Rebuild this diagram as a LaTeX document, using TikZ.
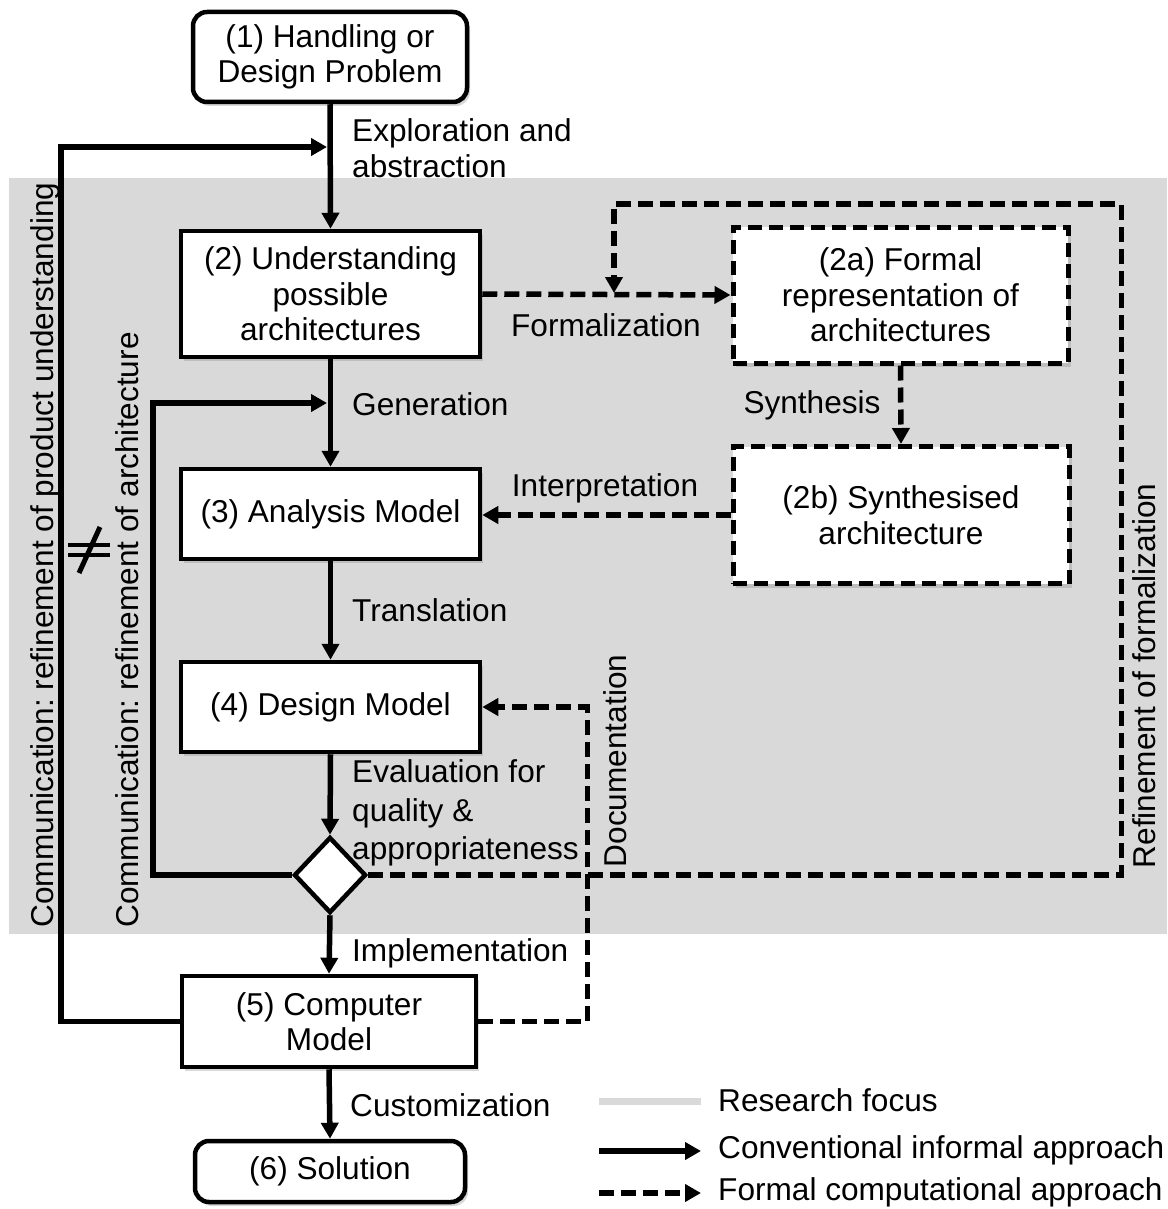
\documentclass[tikz,border=0pt]{standalone}
\usepackage{fontspec}
\setmainfont{Liberation Sans}
\usetikzlibrary{arrows.meta,shapes.geometric,shadows}
\definecolor{focusgrey}{HTML}{D9D9D9}
\frenchspacing
\begin{document}
\begin{tikzpicture}[x=1pt,y=-1pt,
  font=\fontsize{31.6}{35.5}\selectfont,
  shad/.style={drop shadow={shadow xshift=3pt,shadow yshift=-4pt,opacity=0.3}},
  box/.style={draw,line width=4.5pt,fill=white,align=center,inner sep=0pt,shad},
  dbox/.style={box,line width=5pt,dash pattern=on 14pt off 7pt},
  tip/.style={-{Triangle[length=16pt,width=17pt]}},
  conn/.style={line width=5.5pt,tip},
  dconn/.style={line width=5.5pt,dash pattern=on 15pt off 7pt,tip},
  lbl/.style={inner sep=0pt,align=left,anchor=west},
  vlbl/.style={inner sep=0pt,rotate=90,anchor=base}
]
\useasboundingbox (0,0) rectangle (1167,1209);
\fill[white] (0,0) rectangle (1167,1209);
% research focus region
\fill[focusgrey] (9,178) rectangle (1167,934);

% nodes
\node[box,rounded corners=14pt,minimum width=274pt,minimum height=90pt] (n1) at (330,57) {(1) Handling or\\Design Problem};
\node[box,minimum width=299pt,minimum height=126pt] (n2) at (330.5,294) {(2) Understanding\\possible\\architectures};
\node[dbox,minimum width=335pt,minimum height=136pt] (n2a) at (900.5,295) {(2a) Formal\\representation of\\architectures};
\node[dbox,minimum width=336pt,minimum height=137pt] (n2b) at (901,515) {(2b) Synthesised\\architecture};
\node[box,minimum width=299pt,minimum height=90pt] (n3) at (330.5,514) {(3) Analysis Model};
\node[box,minimum width=299pt,minimum height=90pt] (n4) at (330.5,707) {(4) Design Model};
\node[draw,diamond,line width=4.5pt,fill=white,inner sep=0pt,minimum width=72pt,minimum height=76pt] (d) at (330,875) {};
\node[box,minimum width=294pt,minimum height=91pt] (n5) at (329,1021.5) {(5) Computer\\Model};
\node[box,rounded corners=14pt,minimum width=270pt,minimum height=61pt] (n6) at (330,1171.5) {(6) Solution};

% junction points on the main line
\coordinate (j1) at (327,147);
\coordinate (j2) at (327,403);
\coordinate (j3) at (614,293);

% main flow
\draw[conn] (n1.south) -- (n2.north);
\draw[conn] (n2.south) -- (n3.north);
\draw[conn] (n3.south) -- (n4.north);
\draw[conn] (n4.south) -- (d.north);
\draw[conn] (d.south) -- (n5.north);
\draw[conn] (n5.south) -- (n6.north);

% feedback loops
\draw[conn] (n5.west) -- ++(-119,0) |- (j1);
\draw[conn] (d.west) -- ++(-139,0) |- (j2);

% formal approach
\draw[dconn] (n2.east) -- (n2a.west);
\draw[dconn] (n2a.south) -- (n2b.north);
\draw[dconn] (n2b.west) -- (n2b.west -| n3.east);
\draw[dconn] (n5.east) -- ++(109,0) |- (n4.east);
\draw[dconn] (d.east) -- ++(753,0) |- (614,204) -- (j3);

% labels
\node[lbl] (lexp) at (352,148) {Exploration and\\abstraction};
\node[lbl] (lgen) at (352,404) {Generation};
\node[lbl] (ltra) at (352,610) {Translation};
\node[lbl,font=\fontsize{31.6}{38.5}\selectfont] (leva) at (352,813) {Evaluation for\\quality \&\\appropriateness};
\node[lbl] (limp) at (352,953) {Implementation};
\node[lbl] (lcus) at (350,1105) {Customization};
\node[inner sep=0pt] (lfor) at (606,325) {Formalization};
\node[inner sep=0pt] (lsyn) at (812,405) {Synthesis};
\node[inner sep=0pt] (lint) at (605,488) {Interpretation};
\node[vlbl] (ldoc) at (626,761) {Documentation};
\node[vlbl] (lref) at (1155,676) {Refinement of formalization};
\node[vlbl] (lcp) at (53,555) {Communication: refinement of product understanding};
\node[vlbl] (lca) at (138,630) {Communication: refinement of architecture};

% not-equal sign
\draw[line width=4pt] (68,545) -- (110,545) (68,555) -- (110,555);
\draw[line width=5pt] (100,527) -- (79,573);

% legend
\coordinate (lg1a) at (599,1101); \coordinate (lg1b) at (701,1101);
\coordinate (lg2a) at (599,1151); \coordinate (lg2b) at (701,1151);
\coordinate (lg3a) at (599,1193); \coordinate (lg3b) at (701,1193);
\draw[line width=7pt,focusgrey] (lg1a) -- (lg1b);
\draw[conn] (lg2a) -- (lg2b);
\draw[dconn] (lg3a) -- (lg3b);
\node[lbl] (t1) at (718,1100) {Research focus};
\node[lbl] (t2) at (718,1150) {Conventional informal approach};
\node[lbl] (t3) at (718,1192) {Formal computational approach};
\end{tikzpicture}
\end{document}
